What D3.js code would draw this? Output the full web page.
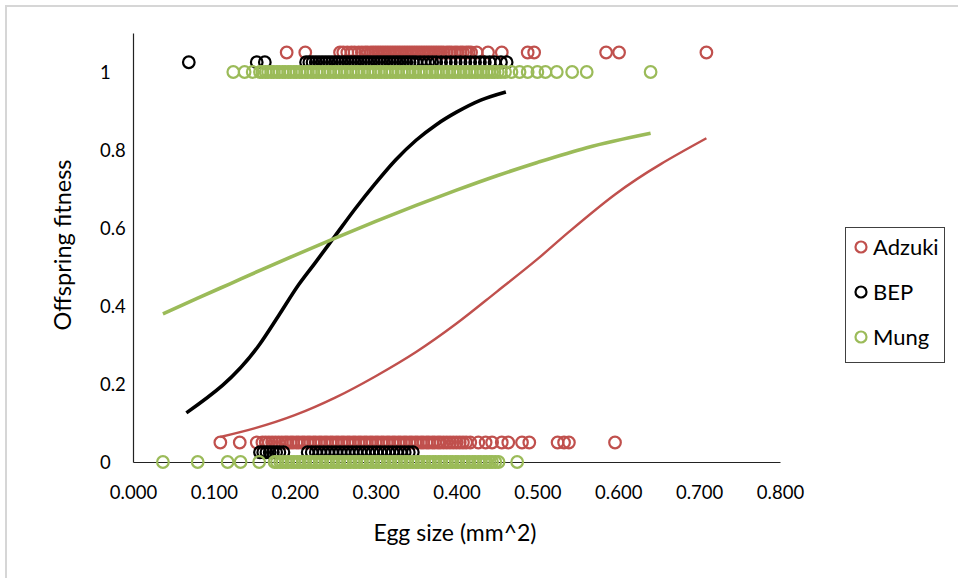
<!DOCTYPE html>
<html><head><meta charset="utf-8">
<script src="https://cdn.jsdelivr.net/npm/d3@7"></script>
<style>
body{margin:0;background:#fff}
svg{display:block}
text{font-family:Lato,"Open Sans",sans-serif;fill:#000}
</style>
</head><body>
<svg id="chart" width="958" height="578"></svg>
<script>
// ---- data ----
const seriesNames = ["Adzuki", "BEP", "Mung"];
const seriesColors = ["#C0504D", "#000000", "#9BBB59"];
const xTickValues = [0, 0.1, 0.2, 0.3, 0.4, 0.5, 0.6, 0.7, 0.8];
const yTickValues = [0, 0.2, 0.4, 0.6, 0.8, 1];

// plotted fitness levels (survived / died) per series
const adzukiLevels = [1.05, 0.05];
const bepLevels = [1.025, 0.025];
const mungLevels = [1.0, 0.0];

// egg sizes, fitness = 1
const adzukiTopX = [0.190, 0.213, 0.256, 0.260, 0.265, 0.270, 0.274, 0.279, 0.283, 0.287, 0.290, 0.294, 0.297, 0.300, 0.303, 0.306, 0.309, 0.312, 0.315, 0.318, 0.321, 0.324, 0.327, 0.330, 0.333, 0.336, 0.339, 0.342, 0.345, 0.348, 0.351, 0.354, 0.357, 0.360, 0.363, 0.366, 0.369, 0.372, 0.375, 0.378, 0.381, 0.384, 0.388, 0.391, 0.394, 0.398, 0.401, 0.405, 0.408, 0.412, 0.415, 0.418, 0.425, 0.439, 0.456, 0.488, 0.496, 0.585, 0.601, 0.709];
// egg sizes, fitness = 0
const adzukiBotX = [0.108, 0.132, 0.153, 0.160, 0.164, 0.168, 0.172, 0.176, 0.180, 0.184, 0.188, 0.191, 0.195, 0.198, 0.202, 0.205, 0.209, 0.212, 0.216, 0.219, 0.223, 0.226, 0.230, 0.233, 0.237, 0.240, 0.244, 0.247, 0.251, 0.254, 0.258, 0.261, 0.265, 0.268, 0.272, 0.275, 0.279, 0.282, 0.286, 0.289, 0.293, 0.296, 0.300, 0.303, 0.307, 0.310, 0.314, 0.317, 0.321, 0.324, 0.328, 0.331, 0.335, 0.338, 0.342, 0.345, 0.349, 0.352, 0.356, 0.359, 0.363, 0.366, 0.370, 0.373, 0.377, 0.380, 0.384, 0.388, 0.392, 0.396, 0.400, 0.404, 0.408, 0.412, 0.417, 0.427, 0.436, 0.444, 0.456, 0.464, 0.481, 0.490, 0.525, 0.533, 0.539, 0.596];

const bepTopX = [0.069, 0.153, 0.163, 0.214, 0.218, 0.222, 0.226, 0.230, 0.234, 0.238, 0.242, 0.246, 0.250, 0.254, 0.258, 0.262, 0.266, 0.270, 0.274, 0.278, 0.282, 0.286, 0.290, 0.294, 0.298, 0.302, 0.306, 0.310, 0.314, 0.318, 0.322, 0.326, 0.330, 0.334, 0.338, 0.342, 0.346, 0.350, 0.355, 0.360, 0.365, 0.370, 0.375, 0.381, 0.387, 0.393, 0.399, 0.405, 0.411, 0.417, 0.423, 0.429, 0.435, 0.441, 0.447, 0.455, 0.462];
const bepBotX = [0.157, 0.161, 0.165, 0.169, 0.173, 0.177, 0.181, 0.186, 0.216, 0.221, 0.226, 0.231, 0.236, 0.241, 0.246, 0.251, 0.256, 0.261, 0.266, 0.271, 0.276, 0.281, 0.286, 0.291, 0.296, 0.301, 0.306, 0.311, 0.316, 0.321, 0.326, 0.331, 0.336, 0.341, 0.346];

const mungTopX = [0.124, 0.138, 0.148, 0.157, 0.160, 0.164, 0.167, 0.171, 0.174, 0.178, 0.181, 0.185, 0.188, 0.192, 0.195, 0.199, 0.202, 0.206, 0.209, 0.213, 0.216, 0.220, 0.223, 0.227, 0.230, 0.234, 0.237, 0.241, 0.244, 0.248, 0.251, 0.255, 0.258, 0.262, 0.265, 0.269, 0.272, 0.276, 0.279, 0.283, 0.286, 0.290, 0.293, 0.297, 0.300, 0.304, 0.307, 0.311, 0.314, 0.318, 0.321, 0.325, 0.328, 0.332, 0.335, 0.339, 0.342, 0.346, 0.349, 0.353, 0.356, 0.360, 0.363, 0.367, 0.370, 0.374, 0.377, 0.381, 0.384, 0.388, 0.391, 0.395, 0.398, 0.402, 0.405, 0.409, 0.412, 0.416, 0.419, 0.423, 0.426, 0.430, 0.433, 0.437, 0.440, 0.444, 0.447, 0.451, 0.455, 0.460, 0.468, 0.478, 0.488, 0.500, 0.510, 0.524, 0.543, 0.561, 0.640];
const mungBotX = [0.037, 0.080, 0.117, 0.133, 0.156, 0.175, 0.178, 0.182, 0.185, 0.189, 0.192, 0.196, 0.199, 0.203, 0.206, 0.210, 0.213, 0.217, 0.220, 0.224, 0.227, 0.231, 0.234, 0.238, 0.241, 0.245, 0.248, 0.252, 0.255, 0.259, 0.262, 0.266, 0.269, 0.273, 0.276, 0.280, 0.283, 0.287, 0.290, 0.294, 0.297, 0.301, 0.304, 0.308, 0.311, 0.315, 0.318, 0.322, 0.325, 0.329, 0.332, 0.336, 0.339, 0.343, 0.346, 0.350, 0.353, 0.357, 0.360, 0.364, 0.367, 0.371, 0.374, 0.378, 0.381, 0.385, 0.388, 0.392, 0.395, 0.399, 0.402, 0.406, 0.409, 0.413, 0.416, 0.420, 0.423, 0.427, 0.430, 0.434, 0.437, 0.441, 0.444, 0.448, 0.452, 0.475];

// fitted curves
const adzukiFitX = [0.108, 0.15, 0.20, 0.25, 0.30, 0.35, 0.40, 0.45, 0.50, 0.539, 0.596, 0.709];
const adzukiFitY = [0.064, 0.086, 0.120, 0.165, 0.220, 0.282, 0.355, 0.437, 0.520, 0.590, 0.686, 0.830];
const bepFitX = [0.066, 0.156, 0.18, 0.205, 0.225, 0.25, 0.275, 0.30, 0.325, 0.35, 0.375, 0.40, 0.43, 0.461];
const bepFitY = [0.126, 0.300, 0.375, 0.455, 0.510, 0.580, 0.650, 0.715, 0.775, 0.825, 0.865, 0.897, 0.928, 0.949];
const mungFitX = [0.037, 0.08, 0.12, 0.16, 0.20, 0.25, 0.30, 0.35, 0.40, 0.45, 0.50, 0.561, 0.640];
const mungFitY = [0.380, 0.420, 0.457, 0.494, 0.530, 0.574, 0.617, 0.658, 0.697, 0.734, 0.768, 0.806, 0.843];

// ---- drawing ----
const svg = d3.select("#chart");
const x = d3.scaleLinear().domain([0, 0.8]).range([133, 780]);
const y = d3.scaleLinear().domain([0, 1.1]).range([462, 33]);

// outer frame
svg.append("path").attr("d", "M6,578V6H958").attr("fill", "none")
  .attr("stroke", "#d6d6d6").attr("stroke-width", 2);

// axes
const xAxis = svg.append("g").attr("transform", "translate(0,462)")
  .call(d3.axisBottom(x).tickValues(xTickValues).tickSize(0).tickSizeOuter(0).tickFormat(d3.format(".3f")));
xAxis.select(".domain").attr("stroke", "#222").attr("stroke-width", 1.2);
xAxis.selectAll("text").attr("y", 31).attr("dy", "0.35em")
  .style("font-family", "Lato, 'Open Sans', sans-serif").style("font-size", "18.5px").attr("fill", "#000");

const yAxis = svg.append("g").attr("transform", "translate(133,0)")
  .call(d3.axisLeft(y).tickValues(yTickValues).tickSize(0).tickSizeOuter(0)
    .tickFormat(d => (d === 0 || d === 1) ? String(d) : d3.format(".1f")(d)));
yAxis.select(".domain").attr("stroke", "#222").attr("stroke-width", 1.2);
yAxis.selectAll("text").attr("x", -33).attr("text-anchor", "start").attr("dy", "0.35em")
  .style("font-family", "Lato, 'Open Sans', sans-serif").style("font-size", "18.5px").attr("fill", "#000");

// axis titles
svg.append("text").attr("x", 455).attr("y", 541).attr("text-anchor", "middle")
  .style("font-size", "23px").text("Egg size (mm^2)");
svg.append("text").attr("transform", "translate(71,245) rotate(-90)").attr("text-anchor", "middle")
  .style("font-size", "23.5px").text("Offspring fitness");

// scatter
const scatterSets = [
  [adzukiTopX, adzukiLevels[0], 0], [adzukiBotX, adzukiLevels[1], 0],
  [bepTopX, bepLevels[0], 1], [bepBotX, bepLevels[1], 1],
  [mungTopX, mungLevels[0], 2], [mungBotX, mungLevels[1], 2]
];
const line = d3.line().x(d => x(d[0])).y(d => y(d[1])).curve(d3.curveMonotoneX);

function drawPoints(xs, level, si) {
  svg.append("g").selectAll("circle").data(xs).join("circle")
    .attr("cx", d => x(d)).attr("cy", y(level)).attr("r", 5.8)
    .attr("fill", "none").attr("stroke", seriesColors[si]).attr("stroke-width", 2.2);
}
scatterSets.forEach(s => drawPoints(s[0], s[1], s[2]));

const fits = [[adzukiFitX, adzukiFitY, 0, 2.4], [bepFitX, bepFitY, 1, 3.6], [mungFitX, mungFitY, 2, 3.6]];
fits.forEach(f => {
  svg.append("path").datum(f[0].map((v, i) => [v, f[1][i]]))
    .attr("d", line).attr("fill", "none")
    .attr("stroke", seriesColors[f[2]]).attr("stroke-width", f[3]);
});

// legend
const lg = svg.append("g");
lg.append("rect").attr("x", 845.5).attr("y", 227.5).attr("width", 99).attr("height", 135)
  .attr("fill", "#fff").attr("stroke", "#404040").attr("stroke-width", 1);
seriesNames.forEach((n, i) => {
  const cy = 247 + i * 45;
  lg.append("circle").attr("cx", 861).attr("cy", cy).attr("r", 5.5)
    .attr("fill", "none").attr("stroke", seriesColors[i]).attr("stroke-width", 2.2);
  lg.append("text").attr("x", 873).attr("y", cy).attr("dy", "0.36em")
    .style("font-size", "22px").text(n);
});
</script>
</body></html>
